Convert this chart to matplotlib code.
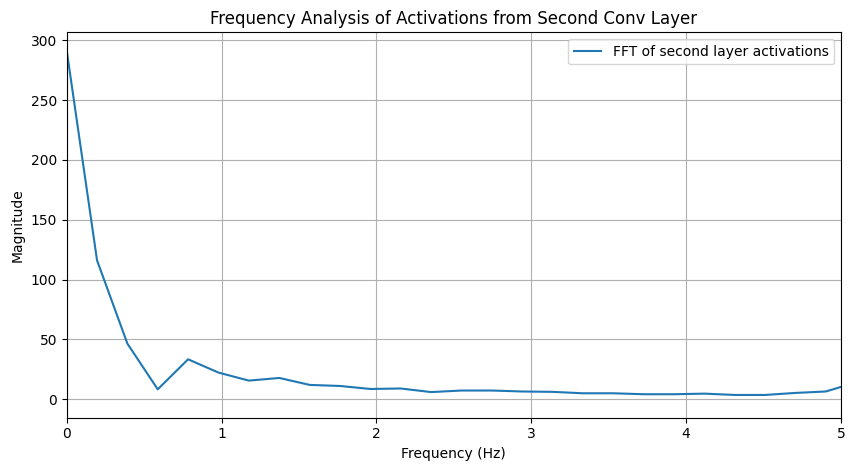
import matplotlib
matplotlib.use("Agg")
import matplotlib.pyplot as plt

freqs = [0.0, 0.196, 0.392, 0.588, 0.784, 0.980, 1.176, 1.373, 1.569, 1.765,
         1.961, 2.157, 2.353, 2.549, 2.745, 2.941, 3.137, 3.333, 3.529, 3.725,
         3.922, 4.118, 4.314, 4.510, 4.706, 4.902, 5.098]
magnitude = [291.6, 116.1, 46.5, 8.3, 33.4, 22.3, 15.6, 17.8, 12.0, 11.1,
             8.6, 9.0, 6.0, 7.3, 7.3, 6.5, 6.2, 5.0, 5.0, 4.2,
             4.2, 4.7, 3.6, 3.6, 5.3, 6.5, 14.1]

fig = plt.figure(figsize=(8.55, 4.7), dpi=100)
ax = fig.add_axes([0.078, 0.1113, 0.9056, 0.82])
ax.plot(freqs, magnitude, color="#1f77b4", label="FFT of second layer activations")
ax.set_xlim(0, 5)
ax.set_ylim(-15.4, 306.7)
ax.set_title("Frequency Analysis of Activations from Second Conv Layer")
ax.set_xlabel("Frequency (Hz)")
ax.set_ylabel("Magnitude")
ax.grid(True)
ax.legend(loc="upper right")
fig.savefig("out.png", dpi=100)
